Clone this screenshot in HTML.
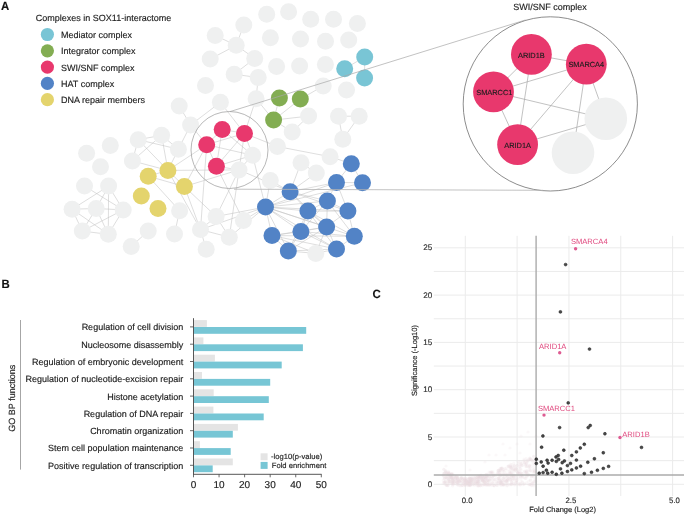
<!DOCTYPE html>
<html><head><meta charset="utf-8"><style>
html,body{margin:0;padding:0;background:#fff;}
svg{display:block;font-family:"Liberation Sans",sans-serif;text-rendering:geometricPrecision;filter:blur(0.25px);}
text[fill="#1a1a1a"],text[fill="#222"],text[fill="#111"],text[fill="#333"]{stroke:#222;stroke-width:0.15px;}
</style></head><body>
<svg width="685" height="515" viewBox="0 0 685 515">
<rect width="685" height="515" fill="#fff"/>
<g stroke="#c2c2c2" stroke-width="0.55">
<line x1="215.2" y1="35.5" x2="236.2" y2="45.3"/>
<line x1="243.8" y1="25.1" x2="236.2" y2="45.3"/>
<line x1="236.2" y1="45.3" x2="210.2" y2="59.1"/>
<line x1="236.2" y1="45.3" x2="254.7" y2="58.4"/>
<line x1="254.7" y1="58.4" x2="234.2" y2="74.3"/>
<line x1="234.2" y1="74.3" x2="258.2" y2="77.5"/>
<line x1="258.2" y1="77.5" x2="256.1" y2="98.7"/>
<line x1="256.1" y1="98.7" x2="244.5" y2="133.4"/>
<line x1="256.1" y1="98.7" x2="273.6" y2="120.1"/>
<line x1="279.4" y1="98" x2="273.6" y2="120.1"/>
<line x1="300.3" y1="99.1" x2="273.6" y2="120.1"/>
<line x1="273.6" y1="120.1" x2="308.6" y2="116.1"/>
<line x1="300.3" y1="99.1" x2="323.2" y2="86"/>
<line x1="273.6" y1="120.1" x2="292.2" y2="131.9"/>
<line x1="308.6" y1="116.1" x2="292.2" y2="131.9"/>
<line x1="364.7" y1="57" x2="344.7" y2="68.7"/>
<line x1="364.7" y1="57" x2="364.6" y2="78"/>
<line x1="338.5" y1="116.2" x2="359.2" y2="116.2"/>
<line x1="338.5" y1="116.2" x2="342.8" y2="139.2"/>
<line x1="359.2" y1="116.2" x2="342.8" y2="139.2"/>
<line x1="179.2" y1="106" x2="190.6" y2="125"/>
<line x1="190.6" y1="125" x2="220.4" y2="102.3"/>
<line x1="220.4" y1="102.3" x2="244.5" y2="133.4"/>
<line x1="190.6" y1="125" x2="206.7" y2="144.7"/>
<line x1="138.2" y1="139.7" x2="161.6" y2="135.3"/>
<line x1="138.2" y1="139.7" x2="178.4" y2="149.2"/>
<line x1="161.6" y1="135.3" x2="178.4" y2="149.2"/>
<line x1="138.2" y1="139.7" x2="167.9" y2="170.4"/>
<line x1="161.6" y1="135.3" x2="132.4" y2="160.9"/>
<line x1="161.6" y1="135.3" x2="167.9" y2="170.4"/>
<line x1="178.4" y1="149.2" x2="167.9" y2="170.4"/>
<line x1="190.6" y1="125" x2="178.4" y2="149.2"/>
<line x1="138.2" y1="139.7" x2="132.4" y2="160.9"/>
<line x1="132.4" y1="160.9" x2="167.9" y2="170.4"/>
<line x1="148.2" y1="176.2" x2="167.9" y2="170.4"/>
<line x1="167.9" y1="170.4" x2="206.7" y2="144.7"/>
<line x1="167.9" y1="170.4" x2="239" y2="169.9"/>
<line x1="148.2" y1="176.2" x2="184.4" y2="186.5"/>
<line x1="167.9" y1="170.4" x2="184.4" y2="186.5"/>
<line x1="184.4" y1="186.5" x2="206.7" y2="144.7"/>
<line x1="184.4" y1="186.5" x2="239" y2="169.9"/>
<line x1="84.5" y1="186.1" x2="123.2" y2="209.9"/>
<line x1="108.6" y1="186.1" x2="72.1" y2="209.2"/>
<line x1="108.6" y1="186.1" x2="96.2" y2="208.5"/>
<line x1="108.6" y1="186.1" x2="108.3" y2="234.3"/>
<line x1="108.6" y1="186.1" x2="123.2" y2="209.9"/>
<line x1="72.1" y1="209.2" x2="96.2" y2="208.5"/>
<line x1="96.2" y1="208.5" x2="123.2" y2="209.9"/>
<line x1="72.1" y1="209.2" x2="108.3" y2="234.3"/>
<line x1="72.1" y1="209.2" x2="82.3" y2="231.1"/>
<line x1="96.2" y1="208.5" x2="82.3" y2="231.1"/>
<line x1="96.2" y1="208.5" x2="108.3" y2="234.3"/>
<line x1="123.2" y1="209.9" x2="82.3" y2="231.1"/>
<line x1="123.2" y1="209.9" x2="108.3" y2="234.3"/>
<line x1="82.3" y1="231.1" x2="108.3" y2="234.3"/>
<line x1="148.2" y1="176.2" x2="179.6" y2="210.7"/>
<line x1="184.4" y1="186.5" x2="216.1" y2="216.5"/>
<line x1="184.4" y1="186.5" x2="200.5" y2="229.6"/>
<line x1="167.9" y1="170.4" x2="200.5" y2="229.6"/>
<line x1="216.1" y1="216.5" x2="239" y2="169.9"/>
<line x1="179.6" y1="210.7" x2="174.5" y2="234"/>
<line x1="148.2" y1="231.1" x2="131.2" y2="246.4"/>
<line x1="200.5" y1="229.6" x2="216.1" y2="216.5"/>
<line x1="200.5" y1="229.6" x2="229.3" y2="237.2"/>
<line x1="200.5" y1="229.6" x2="206.2" y2="249.3"/>
<line x1="216.1" y1="216.5" x2="229.3" y2="237.2"/>
<line x1="222.2" y1="129.4" x2="244.5" y2="133.4"/>
<line x1="222.2" y1="129.4" x2="206.7" y2="144.7"/>
<line x1="206.7" y1="144.7" x2="244.5" y2="133.4"/>
<line x1="206.7" y1="144.7" x2="252.6" y2="155.3"/>
<line x1="244.5" y1="133.4" x2="216.4" y2="166.3"/>
<line x1="244.5" y1="133.4" x2="252.6" y2="155.3"/>
<line x1="244.5" y1="133.4" x2="277.4" y2="146.5"/>
<line x1="216.4" y1="166.3" x2="239" y2="169.9"/>
<line x1="216.4" y1="166.3" x2="252.6" y2="155.3"/>
<line x1="252.6" y1="155.3" x2="239" y2="169.9"/>
<line x1="222.2" y1="129.4" x2="252.6" y2="155.3"/>
<line x1="206.7" y1="144.7" x2="200.5" y2="229.6"/>
<line x1="239" y1="169.9" x2="229.3" y2="237.2"/>
<line x1="239" y1="169.9" x2="290.1" y2="191.7"/>
<line x1="252.6" y1="155.3" x2="265.5" y2="207"/>
<line x1="216.4" y1="166.3" x2="243.4" y2="220.5"/>
<line x1="222.2" y1="129.4" x2="216.4" y2="166.3"/>
<line x1="244.5" y1="133.4" x2="239" y2="169.9"/>
<line x1="206.7" y1="144.7" x2="216.4" y2="166.3"/>
<line x1="277.4" y1="146.5" x2="330.1" y2="156.7"/>
<line x1="330.1" y1="156.7" x2="351.3" y2="163.7"/>
<line x1="301" y1="162.8" x2="316.3" y2="173"/>
<line x1="316.3" y1="173" x2="290.1" y2="191.7"/>
<line x1="270.3" y1="180.4" x2="290.1" y2="191.7"/>
<line x1="270.3" y1="180.4" x2="265.5" y2="207"/>
<line x1="290.1" y1="191.7" x2="265.5" y2="207"/>
<line x1="290.1" y1="191.7" x2="307.9" y2="211.1"/>
<line x1="290.1" y1="191.7" x2="327.4" y2="201"/>
<line x1="265.5" y1="207" x2="307.9" y2="211.1"/>
<line x1="265.5" y1="207" x2="327.4" y2="201"/>
<line x1="265.5" y1="207" x2="347.9" y2="211.1"/>
<line x1="265.5" y1="207" x2="272" y2="235.6"/>
<line x1="265.5" y1="207" x2="300.9" y2="231.5"/>
<line x1="265.5" y1="207" x2="326.6" y2="226.9"/>
<line x1="265.5" y1="207" x2="354.3" y2="236.3"/>
<line x1="265.5" y1="207" x2="288.3" y2="251"/>
<line x1="265.5" y1="207" x2="336.5" y2="249"/>
<line x1="307.9" y1="211.1" x2="327.4" y2="201"/>
<line x1="307.9" y1="211.1" x2="347.9" y2="211.1"/>
<line x1="307.9" y1="211.1" x2="300.9" y2="231.5"/>
<line x1="307.9" y1="211.1" x2="326.6" y2="226.9"/>
<line x1="307.9" y1="211.1" x2="288.3" y2="251"/>
<line x1="327.4" y1="201" x2="347.9" y2="211.1"/>
<line x1="327.4" y1="201" x2="326.6" y2="226.9"/>
<line x1="327.4" y1="201" x2="354.3" y2="236.3"/>
<line x1="347.9" y1="211.1" x2="326.6" y2="226.9"/>
<line x1="347.9" y1="211.1" x2="354.3" y2="236.3"/>
<line x1="336.5" y1="182.4" x2="362.5" y2="182.8"/>
<line x1="336.5" y1="182.4" x2="351.3" y2="163.7"/>
<line x1="362.5" y1="182.8" x2="351.3" y2="163.7"/>
<line x1="336.5" y1="182.4" x2="347.9" y2="211.1"/>
<line x1="272" y1="235.6" x2="300.9" y2="231.5"/>
<line x1="272" y1="235.6" x2="288.3" y2="251"/>
<line x1="300.9" y1="231.5" x2="326.6" y2="226.9"/>
<line x1="300.9" y1="231.5" x2="288.3" y2="251"/>
<line x1="300.9" y1="231.5" x2="336.5" y2="249"/>
<line x1="326.6" y1="226.9" x2="336.5" y2="249"/>
<line x1="354.3" y1="236.3" x2="336.5" y2="249"/>
<line x1="288.3" y1="251" x2="336.5" y2="249"/>
<line x1="272" y1="235.6" x2="315.8" y2="253.4"/>
<line x1="326.6" y1="226.9" x2="315.8" y2="253.4"/>
<line x1="288.3" y1="251" x2="315.8" y2="253.4"/>
<line x1="336.5" y1="249" x2="315.8" y2="253.4"/>
<line x1="300.9" y1="231.5" x2="354.3" y2="236.3"/>
<line x1="272" y1="235.6" x2="326.6" y2="226.9"/>
<line x1="243.4" y1="220.5" x2="265.5" y2="207"/>
<line x1="229.3" y1="237.2" x2="265.5" y2="207"/>
<line x1="336.5" y1="182.4" x2="327.4" y2="201"/>
<line x1="290.1" y1="191.7" x2="336.5" y2="182.4"/>
<line x1="265.5" y1="207" x2="336.5" y2="182.4"/>
<line x1="290.1" y1="191.7" x2="326.6" y2="226.9"/>
<line x1="307.9" y1="211.1" x2="336.5" y2="249"/>
<line x1="327.4" y1="201" x2="300.9" y2="231.5"/>
<line x1="272" y1="235.6" x2="336.5" y2="249"/>
<line x1="288.3" y1="251" x2="326.6" y2="226.9"/>
<line x1="216.1" y1="216.5" x2="265.5" y2="207"/>
<line x1="200.5" y1="229.6" x2="265.5" y2="207"/>
<line x1="272" y1="235.6" x2="354.3" y2="236.3"/>
<line x1="307.9" y1="211.1" x2="354.3" y2="236.3"/>
<line x1="290.1" y1="191.7" x2="347.9" y2="211.1"/>
<line x1="265.5" y1="207" x2="362.5" y2="182.8"/>
<line x1="301" y1="162.8" x2="290.1" y2="191.7"/>
</g>
<circle cx="550.3" cy="103.9" r="87.1" fill="none" stroke="#707070" stroke-width="0.8"/>
<line x1="531.4" y1="54.4" x2="586.3" y2="64.2" stroke="#a8a8a8" stroke-width="0.7"/>
<line x1="531.4" y1="54.4" x2="493.5" y2="91.9" stroke="#a8a8a8" stroke-width="0.7"/>
<line x1="493.5" y1="91.9" x2="586.3" y2="64.2" stroke="#a8a8a8" stroke-width="0.7"/>
<line x1="493.5" y1="91.9" x2="605.8" y2="118.7" stroke="#a8a8a8" stroke-width="0.7"/>
<line x1="531.4" y1="54.4" x2="517.6" y2="144.6" stroke="#a8a8a8" stroke-width="0.7"/>
<line x1="586.3" y1="64.2" x2="517.6" y2="144.6" stroke="#a8a8a8" stroke-width="0.7"/>
<line x1="586.3" y1="64.2" x2="573" y2="152.8" stroke="#a8a8a8" stroke-width="0.7"/>
<line x1="586.3" y1="64.2" x2="605.8" y2="118.7" stroke="#a8a8a8" stroke-width="0.7"/>
<line x1="493.5" y1="91.9" x2="517.6" y2="144.6" stroke="#a8a8a8" stroke-width="0.7"/>
<line x1="517.6" y1="144.6" x2="605.8" y2="118.7" stroke="#a8a8a8" stroke-width="0.7"/>
<circle cx="531.4" cy="54.4" r="20.4" fill="#e8386d"/>
<text x="531.4" y="57.5" text-anchor="middle" font-size="7.4" fill="#1a1a1a">ARID1B</text>
<circle cx="586.3" cy="64.2" r="20.4" fill="#e8386d"/>
<text x="586.3" y="67.3" text-anchor="middle" font-size="7.4" fill="#1a1a1a">SMARCA4</text>
<circle cx="493.5" cy="91.9" r="20.4" fill="#e8386d"/>
<text x="494.3" y="95.0" text-anchor="middle" font-size="7.4" fill="#1a1a1a">SMARCC1</text>
<circle cx="517.6" cy="144.6" r="20.4" fill="#e8386d"/>
<text x="517.6" y="147.7" text-anchor="middle" font-size="7.4" fill="#1a1a1a">ARID1A</text>
<circle cx="605.8" cy="118.7" r="21.3" fill="#eff0f0"/>
<circle cx="573" cy="152.8" r="21.3" fill="#eff0f0"/>
<text x="550" y="10.0" text-anchor="middle" font-size="9" fill="#222">SWI/SNF complex</text>
<circle cx="243.8" cy="25.1" r="8.5" fill="#eff0f0"/>
<circle cx="266.7" cy="14.3" r="8.5" fill="#eff0f0"/>
<circle cx="288.6" cy="11.7" r="8.5" fill="#eff0f0"/>
<circle cx="215.2" cy="35.5" r="8.5" fill="#eff0f0"/>
<circle cx="236.2" cy="45.3" r="8.5" fill="#eff0f0"/>
<circle cx="270.4" cy="37.7" r="8.5" fill="#eff0f0"/>
<circle cx="210.2" cy="59.1" r="8.5" fill="#eff0f0"/>
<circle cx="254.7" cy="58.4" r="8.5" fill="#eff0f0"/>
<circle cx="276.6" cy="66.6" r="8.5" fill="#eff0f0"/>
<circle cx="299.6" cy="66.1" r="8.5" fill="#eff0f0"/>
<circle cx="325.4" cy="64.4" r="8.5" fill="#eff0f0"/>
<circle cx="310.7" cy="19.3" r="8.5" fill="#eff0f0"/>
<circle cx="333.5" cy="19.3" r="8.5" fill="#eff0f0"/>
<circle cx="357.4" cy="23.4" r="8.5" fill="#eff0f0"/>
<circle cx="300.5" cy="39.1" r="8.5" fill="#eff0f0"/>
<circle cx="325.5" cy="41.3" r="8.5" fill="#eff0f0"/>
<circle cx="348.7" cy="39.9" r="8.5" fill="#eff0f0"/>
<circle cx="234.2" cy="74.3" r="8.5" fill="#eff0f0"/>
<circle cx="258.2" cy="77.5" r="8.5" fill="#eff0f0"/>
<circle cx="205.5" cy="85.5" r="8.5" fill="#eff0f0"/>
<circle cx="220.4" cy="102.3" r="8.5" fill="#eff0f0"/>
<circle cx="179.2" cy="106" r="8.5" fill="#eff0f0"/>
<circle cx="190.6" cy="125" r="8.5" fill="#eff0f0"/>
<circle cx="256.1" cy="98.7" r="8.5" fill="#eff0f0"/>
<circle cx="323.2" cy="86" r="8.5" fill="#eff0f0"/>
<circle cx="346.5" cy="89.9" r="8.5" fill="#eff0f0"/>
<circle cx="308.6" cy="116.1" r="8.5" fill="#eff0f0"/>
<circle cx="338.5" cy="116.2" r="8.5" fill="#eff0f0"/>
<circle cx="359.2" cy="116.2" r="8.5" fill="#eff0f0"/>
<circle cx="342.8" cy="139.2" r="8.5" fill="#eff0f0"/>
<circle cx="292.2" cy="131.9" r="8.5" fill="#eff0f0"/>
<circle cx="277.4" cy="146.5" r="8.5" fill="#eff0f0"/>
<circle cx="330.1" cy="156.7" r="8.5" fill="#eff0f0"/>
<circle cx="301" cy="162.8" r="8.5" fill="#eff0f0"/>
<circle cx="316.3" cy="173" r="8.5" fill="#eff0f0"/>
<circle cx="270.3" cy="180.4" r="8.5" fill="#eff0f0"/>
<circle cx="252.6" cy="155.3" r="8.5" fill="#eff0f0"/>
<circle cx="239" cy="169.9" r="8.5" fill="#eff0f0"/>
<circle cx="110.3" cy="145.5" r="8.5" fill="#eff0f0"/>
<circle cx="86.6" cy="153.3" r="8.5" fill="#eff0f0"/>
<circle cx="100.5" cy="166.7" r="8.5" fill="#eff0f0"/>
<circle cx="138.2" cy="139.7" r="8.5" fill="#eff0f0"/>
<circle cx="161.6" cy="135.3" r="8.5" fill="#eff0f0"/>
<circle cx="178.4" cy="149.2" r="8.5" fill="#eff0f0"/>
<circle cx="132.4" cy="160.9" r="8.5" fill="#eff0f0"/>
<circle cx="84.5" cy="186.1" r="8.5" fill="#eff0f0"/>
<circle cx="108.6" cy="186.1" r="8.5" fill="#eff0f0"/>
<circle cx="72.1" cy="209.2" r="8.5" fill="#eff0f0"/>
<circle cx="96.2" cy="208.5" r="8.5" fill="#eff0f0"/>
<circle cx="123.2" cy="209.9" r="8.5" fill="#eff0f0"/>
<circle cx="82.3" cy="231.1" r="8.5" fill="#eff0f0"/>
<circle cx="108.3" cy="234.3" r="8.5" fill="#eff0f0"/>
<circle cx="131.2" cy="246.4" r="8.5" fill="#eff0f0"/>
<circle cx="148.2" cy="231.1" r="8.5" fill="#eff0f0"/>
<circle cx="174.5" cy="234" r="8.5" fill="#eff0f0"/>
<circle cx="179.6" cy="210.7" r="8.5" fill="#eff0f0"/>
<circle cx="216.1" cy="216.5" r="8.5" fill="#eff0f0"/>
<circle cx="200.5" cy="229.6" r="8.5" fill="#eff0f0"/>
<circle cx="229.3" cy="237.2" r="8.5" fill="#eff0f0"/>
<circle cx="206.2" cy="249.3" r="8.5" fill="#eff0f0"/>
<circle cx="243.4" cy="220.5" r="8.5" fill="#eff0f0"/>
<circle cx="315.8" cy="253.4" r="8.5" fill="#eff0f0"/>
<circle cx="364.7" cy="57" r="8.5" fill="#79c5d5"/>
<circle cx="344.7" cy="68.7" r="8.5" fill="#79c5d5"/>
<circle cx="364.6" cy="78" r="8.5" fill="#79c5d5"/>
<circle cx="279.4" cy="98" r="8.5" fill="#83ad52"/>
<circle cx="300.3" cy="99.1" r="8.5" fill="#83ad52"/>
<circle cx="273.6" cy="120.1" r="8.5" fill="#83ad52"/>
<circle cx="222.2" cy="129.4" r="8.5" fill="#e8386d"/>
<circle cx="244.5" cy="133.4" r="8.5" fill="#e8386d"/>
<circle cx="206.7" cy="144.7" r="8.5" fill="#e8386d"/>
<circle cx="216.4" cy="166.3" r="8.5" fill="#e8386d"/>
<circle cx="167.9" cy="170.4" r="8.5" fill="#e4d46d"/>
<circle cx="148.2" cy="176.2" r="8.5" fill="#e4d46d"/>
<circle cx="184.4" cy="186.5" r="8.5" fill="#e4d46d"/>
<circle cx="141.3" cy="196.1" r="8.5" fill="#e4d46d"/>
<circle cx="158" cy="208.5" r="8.5" fill="#e4d46d"/>
<circle cx="290.1" cy="191.7" r="8.5" fill="#5283c6"/>
<circle cx="265.5" cy="207" r="8.5" fill="#5283c6"/>
<circle cx="307.9" cy="211.1" r="8.5" fill="#5283c6"/>
<circle cx="327.4" cy="201" r="8.5" fill="#5283c6"/>
<circle cx="347.9" cy="211.1" r="8.5" fill="#5283c6"/>
<circle cx="336.5" cy="182.4" r="8.5" fill="#5283c6"/>
<circle cx="362.5" cy="182.8" r="8.5" fill="#5283c6"/>
<circle cx="351.3" cy="163.7" r="8.5" fill="#5283c6"/>
<circle cx="272" cy="235.6" r="8.5" fill="#5283c6"/>
<circle cx="300.9" cy="231.5" r="8.5" fill="#5283c6"/>
<circle cx="326.6" cy="226.9" r="8.5" fill="#5283c6"/>
<circle cx="354.3" cy="236.3" r="8.5" fill="#5283c6"/>
<circle cx="288.3" cy="251" r="8.5" fill="#5283c6"/>
<circle cx="336.5" cy="249" r="8.5" fill="#5283c6"/>
<line x1="229.7" y1="111.7" x2="525.4" y2="20" stroke="#a8a8a8" stroke-width="0.7"/>
<line x1="234" y1="189.2" x2="543.2" y2="190.3" stroke="#b3b3b3" stroke-width="0.8"/>
<circle cx="229.5" cy="150" r="38.5" fill="none" stroke="#9a9a9a" stroke-width="0.7"/>
<text transform="translate(1.0,10.0) scale(0.95,1)" font-size="12" font-weight="bold" fill="#111">A</text>
<text x="35.8" y="20.9" font-size="9" fill="#1a1a1a">Complexes in SOX11-interactome</text>
<circle cx="47.4" cy="34.50" r="6.6" fill="#79c5d5"/>
<text x="61" y="38.10" font-size="9" fill="#1a1a1a">Mediator complex</text>
<circle cx="47.4" cy="50.80" r="6.6" fill="#83ad52"/>
<text x="61" y="54.40" font-size="9" fill="#1a1a1a">Integrator complex</text>
<circle cx="47.4" cy="67.10" r="6.6" fill="#e8386d"/>
<text x="61" y="70.70" font-size="9" fill="#1a1a1a">SWI/SNF complex</text>
<circle cx="47.4" cy="83.40" r="6.6" fill="#5283c6"/>
<text x="61" y="87.00" font-size="9" fill="#1a1a1a">HAT complex</text>
<circle cx="47.4" cy="99.70" r="6.6" fill="#e4d46d"/>
<text x="61" y="103.30" font-size="9" fill="#1a1a1a">DNA repair members</text>
<text transform="translate(1.4,288.3) scale(0.95,1)" font-size="12" font-weight="bold" fill="#111">B</text>
<text transform="translate(372.6,297.8) scale(0.95,1)" font-size="12" font-weight="bold" fill="#111">C</text>
<line x1="20.5" y1="320" x2="20.5" y2="469.6" stroke="#a6a6a6" stroke-width="1"/>
<text transform="translate(14.9,398.2) rotate(-90)" text-anchor="middle" font-size="9" fill="#222">GO BP functions</text>
<rect x="193.5" y="320.10" width="13.40" height="6.8" fill="#e4e4e4"/>
<rect x="193.5" y="327.00" width="112.70" height="6.8" fill="#77c6d5"/>
<line x1="190" y1="326.90" x2="193.5" y2="326.90" stroke="#444" stroke-width="0.8"/>
<text x="183.2" y="330.35" text-anchor="end" font-size="9" fill="#1a1a1a">Regulation of cell division</text>
<rect x="193.5" y="337.40" width="9.90" height="6.8" fill="#e4e4e4"/>
<rect x="193.5" y="344.30" width="109.40" height="6.8" fill="#77c6d5"/>
<line x1="190" y1="344.20" x2="193.5" y2="344.20" stroke="#444" stroke-width="0.8"/>
<text x="183.2" y="347.65" text-anchor="end" font-size="9" fill="#1a1a1a">Nucleosome disassembly</text>
<rect x="193.5" y="354.70" width="21.40" height="6.8" fill="#e4e4e4"/>
<rect x="193.5" y="361.60" width="88.20" height="6.8" fill="#77c6d5"/>
<line x1="190" y1="361.50" x2="193.5" y2="361.50" stroke="#444" stroke-width="0.8"/>
<text x="183.2" y="364.95" text-anchor="end" font-size="9" fill="#1a1a1a">Regulation of embryonic development</text>
<rect x="193.5" y="372.00" width="8.50" height="6.8" fill="#e4e4e4"/>
<rect x="193.5" y="378.90" width="76.70" height="6.8" fill="#77c6d5"/>
<line x1="190" y1="378.80" x2="193.5" y2="378.80" stroke="#444" stroke-width="0.8"/>
<text x="183.2" y="382.25" text-anchor="end" font-size="9" fill="#1a1a1a">Regulation of nucleotide-excision repair</text>
<rect x="193.5" y="389.30" width="20.20" height="6.8" fill="#e4e4e4"/>
<rect x="193.5" y="396.20" width="75.30" height="6.8" fill="#77c6d5"/>
<line x1="190" y1="396.10" x2="193.5" y2="396.10" stroke="#444" stroke-width="0.8"/>
<text x="183.2" y="399.55" text-anchor="end" font-size="9" fill="#1a1a1a">Histone acetylation</text>
<rect x="193.5" y="406.60" width="19.90" height="6.8" fill="#e4e4e4"/>
<rect x="193.5" y="413.50" width="70.20" height="6.8" fill="#77c6d5"/>
<line x1="190" y1="413.40" x2="193.5" y2="413.40" stroke="#444" stroke-width="0.8"/>
<text x="183.2" y="416.85" text-anchor="end" font-size="9" fill="#1a1a1a">Regulation of DNA repair</text>
<rect x="193.5" y="423.90" width="44.40" height="6.8" fill="#e4e4e4"/>
<rect x="193.5" y="430.80" width="39.30" height="6.8" fill="#77c6d5"/>
<line x1="190" y1="430.70" x2="193.5" y2="430.70" stroke="#444" stroke-width="0.8"/>
<text x="183.2" y="434.15" text-anchor="end" font-size="9" fill="#1a1a1a">Chromatin organization</text>
<rect x="193.5" y="441.20" width="6.40" height="6.8" fill="#e4e4e4"/>
<rect x="193.5" y="448.10" width="37.20" height="6.8" fill="#77c6d5"/>
<line x1="190" y1="448.00" x2="193.5" y2="448.00" stroke="#444" stroke-width="0.8"/>
<text x="183.2" y="451.45" text-anchor="end" font-size="9" fill="#1a1a1a">Stem cell population maintenance</text>
<rect x="193.5" y="458.50" width="39.30" height="6.8" fill="#e4e4e4"/>
<rect x="193.5" y="465.40" width="19.20" height="6.8" fill="#77c6d5"/>
<line x1="190" y1="465.30" x2="193.5" y2="465.30" stroke="#444" stroke-width="0.8"/>
<text x="183.2" y="468.75" text-anchor="end" font-size="9" fill="#1a1a1a">Positive regulation of transcription</text>
<line x1="193.5" y1="318.2" x2="193.5" y2="474.6" stroke="#444" stroke-width="0.9"/>
<line x1="193.1" y1="474.3" x2="321.6" y2="474.3" stroke="#444" stroke-width="0.9"/>
<line x1="193.50" y1="474.3" x2="193.50" y2="477.3" stroke="#444" stroke-width="0.8"/>
<text x="193.50" y="488.3" text-anchor="middle" font-size="10" fill="#222">0</text>
<line x1="219.06" y1="474.3" x2="219.06" y2="477.3" stroke="#444" stroke-width="0.8"/>
<text x="219.06" y="488.3" text-anchor="middle" font-size="10" fill="#222">10</text>
<line x1="244.62" y1="474.3" x2="244.62" y2="477.3" stroke="#444" stroke-width="0.8"/>
<text x="244.62" y="488.3" text-anchor="middle" font-size="10" fill="#222">20</text>
<line x1="270.18" y1="474.3" x2="270.18" y2="477.3" stroke="#444" stroke-width="0.8"/>
<text x="270.18" y="488.3" text-anchor="middle" font-size="10" fill="#222">30</text>
<line x1="295.74" y1="474.3" x2="295.74" y2="477.3" stroke="#444" stroke-width="0.8"/>
<text x="295.74" y="488.3" text-anchor="middle" font-size="10" fill="#222">40</text>
<line x1="321.30" y1="474.3" x2="321.30" y2="477.3" stroke="#444" stroke-width="0.8"/>
<text x="321.30" y="488.3" text-anchor="middle" font-size="10" fill="#222">50</text>
<rect x="260.6" y="453.3" width="7" height="7" fill="#e4e4e4"/>
<rect x="260.6" y="461.9" width="7" height="7" fill="#77c6d5"/>
<text x="271.1" y="459.1" font-size="7.6" fill="#222">-log10(p-value)</text>
<text x="271.8" y="468.0" font-size="7.6" fill="#222">Fold enrichment</text>
<line x1="433.8" y1="484.30" x2="684" y2="484.30" stroke="#ebebeb" stroke-width="1"/>
<line x1="433.8" y1="460.65" x2="684" y2="460.65" stroke="#ebebeb" stroke-width="1"/>
<line x1="433.8" y1="437.00" x2="684" y2="437.00" stroke="#ebebeb" stroke-width="1"/>
<line x1="433.8" y1="413.35" x2="684" y2="413.35" stroke="#ebebeb" stroke-width="1"/>
<line x1="433.8" y1="389.70" x2="684" y2="389.70" stroke="#ebebeb" stroke-width="1"/>
<line x1="433.8" y1="366.05" x2="684" y2="366.05" stroke="#ebebeb" stroke-width="1"/>
<line x1="433.8" y1="342.40" x2="684" y2="342.40" stroke="#ebebeb" stroke-width="1"/>
<line x1="433.8" y1="318.75" x2="684" y2="318.75" stroke="#ebebeb" stroke-width="1"/>
<line x1="433.8" y1="295.10" x2="684" y2="295.10" stroke="#ebebeb" stroke-width="1"/>
<line x1="433.8" y1="271.45" x2="684" y2="271.45" stroke="#ebebeb" stroke-width="1"/>
<line x1="433.8" y1="247.80" x2="684" y2="247.80" stroke="#ebebeb" stroke-width="1"/>
<line x1="465.30" y1="235.8" x2="465.30" y2="496" stroke="#ebebeb" stroke-width="1"/>
<line x1="517.12" y1="235.8" x2="517.12" y2="496" stroke="#ebebeb" stroke-width="1"/>
<line x1="568.95" y1="235.8" x2="568.95" y2="496" stroke="#ebebeb" stroke-width="1"/>
<line x1="620.77" y1="235.8" x2="620.77" y2="496" stroke="#ebebeb" stroke-width="1"/>
<line x1="672.60" y1="235.8" x2="672.60" y2="496" stroke="#ebebeb" stroke-width="1"/>
<text x="432.2" y="486.80" text-anchor="end" font-size="8.1" fill="#333">0</text>
<text x="432.2" y="439.50" text-anchor="end" font-size="8.1" fill="#333">5</text>
<text x="432.2" y="392.20" text-anchor="end" font-size="8.1" fill="#333">10</text>
<text x="432.2" y="344.90" text-anchor="end" font-size="8.1" fill="#333">15</text>
<text x="432.2" y="297.60" text-anchor="end" font-size="8.1" fill="#333">20</text>
<text x="432.2" y="250.30" text-anchor="end" font-size="8.1" fill="#333">25</text>
<text x="467.20" y="503.4" text-anchor="middle" font-size="7.8" fill="#333">0.0</text>
<text x="570.85" y="503.4" text-anchor="middle" font-size="7.8" fill="#333">2.5</text>
<text x="674.50" y="503.4" text-anchor="middle" font-size="7.8" fill="#333">5.0</text>
<text x="562.6" y="511.5" text-anchor="middle" font-size="7.5" fill="#222">Fold Change (Log2)</text>
<text transform="translate(416.5,360.5) rotate(-90)" text-anchor="middle" font-size="7.5" fill="#222">Significance (-Log10)</text>
<g fill="#eadbe3" fill-opacity="0.2"><circle cx="500.9" cy="481.3" r="1.6"/><circle cx="517.0" cy="484.6" r="1.6"/><circle cx="511.8" cy="484.3" r="1.6"/><circle cx="445.7" cy="477.2" r="1.6"/><circle cx="530.7" cy="475.8" r="1.6"/><circle cx="526.8" cy="461.6" r="1.6"/><circle cx="486.6" cy="476.1" r="1.6"/><circle cx="493.6" cy="479.4" r="1.6"/><circle cx="444.2" cy="472.5" r="1.6"/><circle cx="469.0" cy="485.3" r="1.6"/><circle cx="514.2" cy="466.6" r="1.6"/><circle cx="517.1" cy="465.3" r="1.6"/><circle cx="500.4" cy="470.2" r="1.6"/><circle cx="443.2" cy="483.7" r="1.6"/><circle cx="462.5" cy="479.5" r="1.6"/><circle cx="534.4" cy="482.1" r="1.6"/><circle cx="469.9" cy="485.7" r="1.6"/><circle cx="493.1" cy="481.0" r="1.6"/><circle cx="462.0" cy="485.5" r="1.6"/><circle cx="507.2" cy="485.3" r="1.6"/><circle cx="526.1" cy="466.8" r="1.6"/><circle cx="476.6" cy="478.0" r="1.6"/><circle cx="456.6" cy="477.0" r="1.6"/><circle cx="471.0" cy="482.7" r="1.6"/><circle cx="443.3" cy="480.3" r="1.6"/><circle cx="474.4" cy="479.7" r="1.6"/><circle cx="519.1" cy="473.1" r="1.6"/><circle cx="472.4" cy="481.5" r="1.6"/><circle cx="508.5" cy="466.2" r="1.6"/><circle cx="533.7" cy="456.6" r="1.6"/><circle cx="512.7" cy="482.5" r="1.6"/><circle cx="444.7" cy="482.4" r="1.6"/><circle cx="477.1" cy="481.9" r="1.6"/><circle cx="443.8" cy="469.3" r="1.6"/><circle cx="459.8" cy="485.6" r="1.6"/><circle cx="461.3" cy="483.9" r="1.6"/><circle cx="529.5" cy="484.3" r="1.6"/><circle cx="475.0" cy="480.1" r="1.6"/><circle cx="491.8" cy="482.6" r="1.6"/><circle cx="453.0" cy="483.0" r="1.6"/><circle cx="517.1" cy="482.6" r="1.6"/><circle cx="446.4" cy="485.1" r="1.6"/><circle cx="451.5" cy="477.5" r="1.6"/><circle cx="499.8" cy="484.5" r="1.6"/><circle cx="474.6" cy="485.3" r="1.6"/><circle cx="493.7" cy="475.2" r="1.6"/><circle cx="472.5" cy="478.9" r="1.6"/><circle cx="450.3" cy="474.4" r="1.6"/><circle cx="507.1" cy="485.9" r="1.6"/><circle cx="458.0" cy="477.2" r="1.6"/><circle cx="534.8" cy="471.8" r="1.6"/><circle cx="480.7" cy="477.6" r="1.6"/><circle cx="498.2" cy="483.0" r="1.6"/><circle cx="485.4" cy="478.7" r="1.6"/><circle cx="448.2" cy="484.8" r="1.6"/><circle cx="446.0" cy="477.8" r="1.6"/><circle cx="521.0" cy="463.9" r="1.6"/><circle cx="511.0" cy="484.9" r="1.6"/><circle cx="501.6" cy="482.1" r="1.6"/><circle cx="452.9" cy="479.2" r="1.6"/><circle cx="456.9" cy="484.5" r="1.6"/><circle cx="470.4" cy="481.5" r="1.6"/><circle cx="535.9" cy="481.4" r="1.6"/><circle cx="533.8" cy="469.6" r="1.6"/><circle cx="488.4" cy="482.3" r="1.6"/><circle cx="487.6" cy="476.5" r="1.6"/><circle cx="480.6" cy="476.7" r="1.6"/><circle cx="478.1" cy="485.9" r="1.6"/><circle cx="532.3" cy="475.0" r="1.6"/><circle cx="489.4" cy="476.7" r="1.6"/><circle cx="451.3" cy="476.5" r="1.6"/><circle cx="515.7" cy="482.9" r="1.6"/><circle cx="476.6" cy="483.9" r="1.6"/><circle cx="515.1" cy="478.9" r="1.6"/><circle cx="504.8" cy="481.3" r="1.6"/><circle cx="476.8" cy="483.1" r="1.6"/><circle cx="469.1" cy="481.8" r="1.6"/><circle cx="514.6" cy="478.8" r="1.6"/><circle cx="470.3" cy="485.5" r="1.6"/><circle cx="503.4" cy="478.0" r="1.6"/><circle cx="444.1" cy="478.1" r="1.6"/><circle cx="466.3" cy="483.4" r="1.6"/><circle cx="486.1" cy="483.6" r="1.6"/><circle cx="503.2" cy="482.1" r="1.6"/><circle cx="475.4" cy="482.7" r="1.6"/><circle cx="511.6" cy="482.2" r="1.6"/><circle cx="475.6" cy="484.5" r="1.6"/><circle cx="523.9" cy="477.7" r="1.6"/><circle cx="533.8" cy="484.7" r="1.6"/><circle cx="491.2" cy="479.1" r="1.6"/><circle cx="458.5" cy="484.5" r="1.6"/><circle cx="530.2" cy="471.0" r="1.6"/><circle cx="507.3" cy="480.2" r="1.6"/><circle cx="510.9" cy="467.9" r="1.6"/><circle cx="515.6" cy="476.1" r="1.6"/><circle cx="504.9" cy="474.6" r="1.6"/><circle cx="501.0" cy="481.9" r="1.6"/><circle cx="502.2" cy="480.8" r="1.6"/><circle cx="445.6" cy="472.2" r="1.6"/><circle cx="484.0" cy="481.7" r="1.6"/><circle cx="463.4" cy="483.4" r="1.6"/><circle cx="501.7" cy="468.3" r="1.6"/><circle cx="486.9" cy="475.8" r="1.6"/><circle cx="448.0" cy="473.0" r="1.6"/><circle cx="472.5" cy="478.9" r="1.6"/><circle cx="461.0" cy="477.8" r="1.6"/><circle cx="486.3" cy="478.0" r="1.6"/><circle cx="499.9" cy="478.7" r="1.6"/><circle cx="465.1" cy="485.2" r="1.6"/><circle cx="443.1" cy="475.3" r="1.6"/><circle cx="468.9" cy="481.2" r="1.6"/><circle cx="453.7" cy="484.0" r="1.6"/><circle cx="477.8" cy="476.4" r="1.6"/><circle cx="500.1" cy="469.8" r="1.6"/><circle cx="493.7" cy="475.7" r="1.6"/><circle cx="497.0" cy="485.3" r="1.6"/><circle cx="519.1" cy="471.6" r="1.6"/><circle cx="518.6" cy="477.2" r="1.6"/><circle cx="477.4" cy="477.6" r="1.6"/><circle cx="498.4" cy="478.4" r="1.6"/><circle cx="532.0" cy="485.1" r="1.6"/><circle cx="499.6" cy="474.5" r="1.6"/><circle cx="526.1" cy="458.7" r="1.6"/><circle cx="453.0" cy="480.8" r="1.6"/><circle cx="500.2" cy="470.5" r="1.6"/><circle cx="501.5" cy="484.0" r="1.6"/><circle cx="478.0" cy="480.3" r="1.6"/><circle cx="464.0" cy="480.3" r="1.6"/><circle cx="533.4" cy="467.4" r="1.6"/><circle cx="532.4" cy="483.4" r="1.6"/><circle cx="498.4" cy="473.2" r="1.6"/><circle cx="534.2" cy="470.8" r="1.6"/><circle cx="481.6" cy="478.3" r="1.6"/><circle cx="534.5" cy="470.6" r="1.6"/><circle cx="469.6" cy="481.7" r="1.6"/><circle cx="454.3" cy="481.8" r="1.6"/><circle cx="484.2" cy="477.3" r="1.6"/><circle cx="515.7" cy="481.9" r="1.6"/><circle cx="444.2" cy="477.9" r="1.6"/><circle cx="468.5" cy="485.5" r="1.6"/><circle cx="515.7" cy="468.2" r="1.6"/><circle cx="467.9" cy="479.2" r="1.6"/><circle cx="535.0" cy="464.4" r="1.6"/><circle cx="499.5" cy="476.7" r="1.6"/><circle cx="503.0" cy="478.5" r="1.6"/><circle cx="512.1" cy="466.3" r="1.6"/><circle cx="513.7" cy="470.0" r="1.6"/><circle cx="492.6" cy="475.9" r="1.6"/><circle cx="470.6" cy="482.1" r="1.6"/><circle cx="486.2" cy="477.7" r="1.6"/><circle cx="512.3" cy="476.9" r="1.6"/><circle cx="446.4" cy="474.1" r="1.6"/><circle cx="485.4" cy="484.9" r="1.6"/><circle cx="525.6" cy="473.7" r="1.6"/><circle cx="444.4" cy="482.2" r="1.6"/><circle cx="482.8" cy="481.0" r="1.6"/><circle cx="508.9" cy="478.2" r="1.6"/><circle cx="487.8" cy="484.8" r="1.6"/><circle cx="478.8" cy="479.7" r="1.6"/><circle cx="522.2" cy="465.2" r="1.6"/><circle cx="470.6" cy="484.6" r="1.6"/><circle cx="449.1" cy="483.7" r="1.6"/><circle cx="507.6" cy="474.3" r="1.6"/><circle cx="469.6" cy="484.2" r="1.6"/><circle cx="527.7" cy="462.1" r="1.6"/><circle cx="487.5" cy="480.0" r="1.6"/><circle cx="489.3" cy="476.6" r="1.6"/><circle cx="457.3" cy="482.1" r="1.6"/><circle cx="518.5" cy="463.1" r="1.6"/><circle cx="464.4" cy="484.5" r="1.6"/><circle cx="516.6" cy="478.0" r="1.6"/><circle cx="445.4" cy="481.4" r="1.6"/><circle cx="534.0" cy="485.9" r="1.6"/><circle cx="508.2" cy="466.1" r="1.6"/><circle cx="521.3" cy="466.0" r="1.6"/><circle cx="503.1" cy="485.1" r="1.6"/><circle cx="509.3" cy="467.6" r="1.6"/><circle cx="470.2" cy="485.3" r="1.6"/><circle cx="456.9" cy="482.3" r="1.6"/><circle cx="481.5" cy="476.6" r="1.6"/><circle cx="500.9" cy="468.6" r="1.6"/><circle cx="453.1" cy="478.6" r="1.6"/><circle cx="449.7" cy="472.8" r="1.6"/><circle cx="496.5" cy="481.7" r="1.6"/><circle cx="524.7" cy="462.8" r="1.6"/><circle cx="483.1" cy="477.9" r="1.6"/><circle cx="498.8" cy="477.1" r="1.6"/><circle cx="530.3" cy="468.0" r="1.6"/><circle cx="448.2" cy="481.5" r="1.6"/><circle cx="457.1" cy="482.5" r="1.6"/><circle cx="490.0" cy="484.7" r="1.6"/><circle cx="494.6" cy="479.9" r="1.6"/><circle cx="467.5" cy="482.4" r="1.6"/><circle cx="466.6" cy="484.0" r="1.6"/><circle cx="491.1" cy="473.3" r="1.6"/><circle cx="464.8" cy="480.9" r="1.6"/><circle cx="511.5" cy="467.9" r="1.6"/><circle cx="509.3" cy="478.7" r="1.6"/><circle cx="450.9" cy="481.6" r="1.6"/><circle cx="451.5" cy="474.7" r="1.6"/><circle cx="498.2" cy="472.8" r="1.6"/><circle cx="524.6" cy="472.1" r="1.6"/><circle cx="473.1" cy="484.2" r="1.6"/><circle cx="445.7" cy="481.5" r="1.6"/><circle cx="448.0" cy="473.3" r="1.6"/><circle cx="531.5" cy="476.7" r="1.6"/><circle cx="463.7" cy="478.8" r="1.6"/><circle cx="533.5" cy="476.0" r="1.6"/><circle cx="519.3" cy="464.6" r="1.6"/><circle cx="501.1" cy="474.2" r="1.6"/><circle cx="464.9" cy="480.6" r="1.6"/><circle cx="500.1" cy="474.3" r="1.6"/><circle cx="478.9" cy="477.1" r="1.6"/><circle cx="520.3" cy="477.1" r="1.6"/><circle cx="517.8" cy="472.2" r="1.6"/><circle cx="522.2" cy="473.5" r="1.6"/><circle cx="498.1" cy="478.6" r="1.6"/><circle cx="511.8" cy="472.6" r="1.6"/><circle cx="452.0" cy="473.8" r="1.6"/><circle cx="461.8" cy="477.9" r="1.6"/><circle cx="525.7" cy="471.9" r="1.6"/><circle cx="513.7" cy="463.2" r="1.6"/><circle cx="486.7" cy="484.6" r="1.6"/><circle cx="500.6" cy="475.6" r="1.6"/><circle cx="486.3" cy="474.3" r="1.6"/><circle cx="457.4" cy="478.1" r="1.6"/><circle cx="477.8" cy="479.9" r="1.6"/><circle cx="524.9" cy="463.2" r="1.6"/><circle cx="466.6" cy="480.2" r="1.6"/><circle cx="458.0" cy="479.4" r="1.6"/><circle cx="464.9" cy="481.8" r="1.6"/><circle cx="446.0" cy="484.8" r="1.6"/><circle cx="477.3" cy="485.4" r="1.6"/><circle cx="507.0" cy="479.3" r="1.6"/><circle cx="486.9" cy="485.3" r="1.6"/><circle cx="454.0" cy="482.2" r="1.6"/><circle cx="470.1" cy="483.3" r="1.6"/><circle cx="510.8" cy="467.7" r="1.6"/><circle cx="461.7" cy="477.8" r="1.6"/><circle cx="464.4" cy="478.6" r="1.6"/><circle cx="480.3" cy="485.7" r="1.6"/><circle cx="476.9" cy="479.3" r="1.6"/><circle cx="486.5" cy="476.6" r="1.6"/><circle cx="511.1" cy="479.8" r="1.6"/><circle cx="458.2" cy="479.0" r="1.6"/><circle cx="505.5" cy="484.8" r="1.6"/><circle cx="503.1" cy="475.2" r="1.6"/><circle cx="533.7" cy="456.1" r="1.6"/><circle cx="448.7" cy="482.8" r="1.6"/><circle cx="481.1" cy="475.4" r="1.6"/><circle cx="494.0" cy="485.8" r="1.6"/><circle cx="491.3" cy="476.4" r="1.6"/><circle cx="451.7" cy="474.1" r="1.6"/><circle cx="526.6" cy="472.0" r="1.6"/><circle cx="530.0" cy="458.8" r="1.6"/><circle cx="465.6" cy="478.4" r="1.6"/><circle cx="480.0" cy="475.9" r="1.6"/><circle cx="466.8" cy="481.3" r="1.6"/><circle cx="471.5" cy="478.0" r="1.6"/><circle cx="446.5" cy="485.5" r="1.6"/><circle cx="459.7" cy="481.7" r="1.6"/><circle cx="480.4" cy="480.9" r="1.6"/><circle cx="450.8" cy="476.9" r="1.6"/><circle cx="453.0" cy="480.5" r="1.6"/><circle cx="528.7" cy="474.7" r="1.6"/><circle cx="522.7" cy="465.5" r="1.6"/><circle cx="444.6" cy="478.2" r="1.6"/><circle cx="488.2" cy="480.1" r="1.6"/><circle cx="478.0" cy="482.2" r="1.6"/><circle cx="510.5" cy="484.1" r="1.6"/><circle cx="471.6" cy="481.3" r="1.6"/><circle cx="519.9" cy="466.5" r="1.6"/><circle cx="453.8" cy="478.1" r="1.6"/><circle cx="451.2" cy="483.0" r="1.6"/><circle cx="519.2" cy="468.9" r="1.6"/><circle cx="455.1" cy="476.8" r="1.6"/><circle cx="465.8" cy="478.7" r="1.6"/><circle cx="482.9" cy="481.0" r="1.6"/><circle cx="465.8" cy="478.5" r="1.6"/><circle cx="508.2" cy="466.1" r="1.6"/><circle cx="461.6" cy="480.0" r="1.6"/><circle cx="477.8" cy="477.0" r="1.6"/><circle cx="482.1" cy="478.1" r="1.6"/><circle cx="513.0" cy="476.0" r="1.6"/><circle cx="526.3" cy="476.5" r="1.6"/><circle cx="513.7" cy="476.3" r="1.6"/><circle cx="484.1" cy="483.8" r="1.6"/><circle cx="504.0" cy="485.1" r="1.6"/><circle cx="510.7" cy="479.5" r="1.6"/><circle cx="467.9" cy="484.5" r="1.6"/><circle cx="478.6" cy="477.1" r="1.6"/><circle cx="449.1" cy="474.1" r="1.6"/><circle cx="467.4" cy="483.4" r="1.6"/><circle cx="469.6" cy="478.3" r="1.6"/><circle cx="514.0" cy="475.8" r="1.6"/><circle cx="445.6" cy="470.4" r="1.6"/><circle cx="455.1" cy="479.6" r="1.6"/><circle cx="523.0" cy="484.7" r="1.6"/><circle cx="499.9" cy="472.2" r="1.6"/><circle cx="482.9" cy="478.5" r="1.6"/><circle cx="473.7" cy="477.2" r="1.6"/><circle cx="497.4" cy="483.1" r="1.6"/><circle cx="510.6" cy="466.3" r="1.6"/><circle cx="492.3" cy="473.4" r="1.6"/><circle cx="509.0" cy="474.3" r="1.6"/><circle cx="530.3" cy="480.1" r="1.6"/><circle cx="454.0" cy="478.2" r="1.6"/><circle cx="528.1" cy="470.9" r="1.6"/><circle cx="483.4" cy="479.3" r="1.6"/><circle cx="514.4" cy="484.5" r="1.6"/><circle cx="492.5" cy="485.5" r="1.6"/><circle cx="498.4" cy="470.4" r="1.6"/><circle cx="518.7" cy="471.7" r="1.6"/><circle cx="447.9" cy="485.7" r="1.6"/><circle cx="446.1" cy="479.2" r="1.6"/><circle cx="487.8" cy="484.4" r="1.6"/><circle cx="479.5" cy="477.7" r="1.6"/><circle cx="468.8" cy="479.5" r="1.6"/><circle cx="495.3" cy="475.6" r="1.6"/><circle cx="512.9" cy="468.9" r="1.6"/><circle cx="475.7" cy="478.9" r="1.6"/><circle cx="534.4" cy="481.2" r="1.6"/><circle cx="522.0" cy="476.1" r="1.6"/><circle cx="480.3" cy="476.7" r="1.6"/><circle cx="520.3" cy="473.1" r="1.6"/><circle cx="446.5" cy="472.8" r="1.6"/><circle cx="452.2" cy="482.5" r="1.6"/><circle cx="526.7" cy="464.0" r="1.6"/><circle cx="517.1" cy="469.7" r="1.6"/><circle cx="506.5" cy="483.2" r="1.6"/><circle cx="500.9" cy="482.4" r="1.6"/><circle cx="478.0" cy="476.1" r="1.6"/><circle cx="490.6" cy="480.0" r="1.6"/><circle cx="460.2" cy="480.7" r="1.6"/><circle cx="472.5" cy="477.6" r="1.6"/><circle cx="472.0" cy="480.7" r="1.6"/><circle cx="487.3" cy="482.0" r="1.6"/><circle cx="480.1" cy="485.8" r="1.6"/><circle cx="518.8" cy="484.1" r="1.6"/><circle cx="507.4" cy="479.2" r="1.6"/><circle cx="492.9" cy="482.9" r="1.6"/><circle cx="476.7" cy="482.1" r="1.6"/><circle cx="506.2" cy="476.4" r="1.6"/><circle cx="469.4" cy="478.5" r="1.6"/><circle cx="451.1" cy="477.5" r="1.6"/><circle cx="497.0" cy="482.0" r="1.6"/><circle cx="509.4" cy="471.2" r="1.6"/><circle cx="529.4" cy="465.3" r="1.6"/><circle cx="509.6" cy="466.2" r="1.6"/><circle cx="513.1" cy="478.5" r="1.6"/><circle cx="532.0" cy="483.0" r="1.6"/><circle cx="507.0" cy="482.7" r="1.6"/><circle cx="511.7" cy="477.4" r="1.6"/><circle cx="462.4" cy="482.0" r="1.6"/><circle cx="526.3" cy="465.1" r="1.6"/><circle cx="533.6" cy="472.3" r="1.6"/><circle cx="479.6" cy="475.5" r="1.6"/><circle cx="479.3" cy="477.4" r="1.6"/><circle cx="503.7" cy="484.1" r="1.6"/><circle cx="527.6" cy="475.2" r="1.6"/><circle cx="479.0" cy="476.8" r="1.6"/><circle cx="507.1" cy="476.9" r="1.6"/><circle cx="509.5" cy="472.6" r="1.6"/><circle cx="525.5" cy="464.7" r="1.6"/><circle cx="471.4" cy="479.8" r="1.6"/><circle cx="500.9" cy="484.1" r="1.6"/><circle cx="458.6" cy="482.7" r="1.6"/><circle cx="514.3" cy="468.1" r="1.6"/><circle cx="448.8" cy="479.7" r="1.6"/><circle cx="520.2" cy="482.9" r="1.6"/><circle cx="510.7" cy="473.3" r="1.6"/><circle cx="482.6" cy="480.5" r="1.6"/><circle cx="527.1" cy="466.7" r="1.6"/><circle cx="469.1" cy="482.8" r="1.6"/><circle cx="532.9" cy="461.8" r="1.6"/><circle cx="445.8" cy="471.6" r="1.6"/><circle cx="495.3" cy="479.6" r="1.6"/><circle cx="460.1" cy="478.9" r="1.6"/><circle cx="498.3" cy="479.9" r="1.6"/><circle cx="507.2" cy="480.4" r="1.6"/><circle cx="448.7" cy="478.5" r="1.6"/><circle cx="520.6" cy="484.9" r="1.6"/><circle cx="472.6" cy="484.7" r="1.6"/><circle cx="503.0" cy="484.6" r="1.6"/><circle cx="464.3" cy="483.5" r="1.6"/><circle cx="521.2" cy="472.6" r="1.6"/><circle cx="452.4" cy="476.0" r="1.6"/><circle cx="457.6" cy="477.6" r="1.6"/><circle cx="457.1" cy="482.4" r="1.6"/><circle cx="452.8" cy="483.1" r="1.6"/><circle cx="511.5" cy="482.0" r="1.6"/><circle cx="517.7" cy="479.0" r="1.6"/><circle cx="528.9" cy="484.8" r="1.6"/><circle cx="501.1" cy="485.4" r="1.6"/><circle cx="452.6" cy="475.0" r="1.6"/><circle cx="449.0" cy="474.6" r="1.6"/><circle cx="477.8" cy="480.6" r="1.6"/><circle cx="506.3" cy="480.8" r="1.6"/><circle cx="450.8" cy="478.0" r="1.6"/><circle cx="493.5" cy="476.3" r="1.6"/><circle cx="453.9" cy="481.4" r="1.6"/><circle cx="477.8" cy="482.9" r="1.6"/><circle cx="489.1" cy="485.5" r="1.6"/><circle cx="530.9" cy="459.1" r="1.6"/><circle cx="513.7" cy="479.6" r="1.6"/><circle cx="470.5" cy="478.7" r="1.6"/><circle cx="487.5" cy="477.3" r="1.6"/><circle cx="511.6" cy="484.2" r="1.6"/><circle cx="478.5" cy="478.8" r="1.6"/><circle cx="489.4" cy="481.7" r="1.6"/><circle cx="516.4" cy="475.9" r="1.6"/><circle cx="470.5" cy="480.5" r="1.6"/><circle cx="521.9" cy="473.6" r="1.6"/><circle cx="447.7" cy="477.2" r="1.6"/><circle cx="465.1" cy="483.3" r="1.6"/><circle cx="449.8" cy="475.9" r="1.6"/><circle cx="451.9" cy="479.4" r="1.6"/><circle cx="534.6" cy="472.1" r="1.6"/><circle cx="478.9" cy="485.3" r="1.6"/><circle cx="451.5" cy="477.7" r="1.6"/><circle cx="518.4" cy="461.6" r="1.6"/><circle cx="514.2" cy="471.3" r="1.6"/><circle cx="444.5" cy="473.2" r="1.6"/><circle cx="485.6" cy="478.1" r="1.6"/><circle cx="491.1" cy="472.1" r="1.6"/><circle cx="463.3" cy="485.8" r="1.6"/><circle cx="484.2" cy="479.5" r="1.6"/><circle cx="450.9" cy="476.5" r="1.6"/><circle cx="531.8" cy="476.8" r="1.6"/><circle cx="490.2" cy="472.4" r="1.6"/><circle cx="479.5" cy="483.7" r="1.6"/><circle cx="483.4" cy="481.1" r="1.6"/><circle cx="526.9" cy="476.2" r="1.6"/><circle cx="502.1" cy="468.0" r="1.6"/><circle cx="445.2" cy="482.2" r="1.6"/><circle cx="481.4" cy="484.6" r="1.6"/><circle cx="519.8" cy="483.9" r="1.6"/><circle cx="478.2" cy="486.0" r="1.6"/><circle cx="513.3" cy="483.5" r="1.6"/><circle cx="456.8" cy="483.9" r="1.6"/><circle cx="482.3" cy="485.7" r="1.6"/><circle cx="535.5" cy="462.0" r="1.6"/><circle cx="482.2" cy="477.6" r="1.6"/><circle cx="486.7" cy="476.6" r="1.6"/><circle cx="505.0" cy="468.7" r="1.6"/><circle cx="458.7" cy="481.1" r="1.6"/><circle cx="449.9" cy="477.4" r="1.6"/><circle cx="526.5" cy="482.9" r="1.6"/><circle cx="461.3" cy="477.7" r="1.6"/><circle cx="520.0" cy="485.0" r="1.6"/><circle cx="498.7" cy="470.9" r="1.6"/><circle cx="465.0" cy="485.4" r="1.6"/><circle cx="530.2" cy="458.1" r="1.6"/><circle cx="460.2" cy="481.0" r="1.6"/><circle cx="467.8" cy="484.0" r="1.6"/><circle cx="477.7" cy="483.8" r="1.6"/><circle cx="457.1" cy="481.5" r="1.6"/><circle cx="533.7" cy="477.0" r="1.6"/><circle cx="451.4" cy="474.5" r="1.6"/><circle cx="502.8" cy="474.2" r="1.6"/><circle cx="477.3" cy="480.9" r="1.6"/><circle cx="497.1" cy="485.4" r="1.6"/><circle cx="465.4" cy="482.5" r="1.6"/><circle cx="467.5" cy="482.4" r="1.6"/><circle cx="511.0" cy="467.0" r="1.6"/><circle cx="487.7" cy="482.0" r="1.6"/><circle cx="443.8" cy="482.0" r="1.6"/><circle cx="482.0" cy="480.3" r="1.6"/><circle cx="499.8" cy="482.3" r="1.6"/><circle cx="448.2" cy="478.6" r="1.6"/><circle cx="446.6" cy="476.3" r="1.6"/><circle cx="475.2" cy="477.0" r="1.6"/><circle cx="470.7" cy="481.4" r="1.6"/><circle cx="503.9" cy="484.5" r="1.6"/><circle cx="477.5" cy="481.4" r="1.6"/><circle cx="509.3" cy="484.7" r="1.6"/><circle cx="531.3" cy="485.7" r="1.6"/><circle cx="471.1" cy="479.0" r="1.6"/><circle cx="529.7" cy="459.6" r="1.6"/><circle cx="484.7" cy="482.7" r="1.6"/><circle cx="492.2" cy="476.8" r="1.6"/><circle cx="529.0" cy="466.1" r="1.6"/><circle cx="494.3" cy="483.3" r="1.6"/><circle cx="455.8" cy="479.7" r="1.6"/><circle cx="489.0" cy="479.9" r="1.6"/><circle cx="462.3" cy="481.5" r="1.6"/><circle cx="448.6" cy="472.6" r="1.6"/><circle cx="474.8" cy="478.2" r="1.6"/><circle cx="533.0" cy="464.1" r="1.6"/><circle cx="468.6" cy="484.3" r="1.6"/><circle cx="511.9" cy="469.6" r="1.6"/><circle cx="520.1" cy="476.6" r="1.6"/><circle cx="479.1" cy="482.1" r="1.6"/><circle cx="465.9" cy="480.1" r="1.6"/><circle cx="524.5" cy="471.0" r="1.6"/><circle cx="526.4" cy="463.4" r="1.6"/><circle cx="455.8" cy="476.7" r="1.6"/><circle cx="511.8" cy="476.3" r="1.6"/><circle cx="443.9" cy="469.3" r="1.6"/><circle cx="519.6" cy="473.4" r="1.6"/><circle cx="524.0" cy="460.5" r="1.6"/><circle cx="497.8" cy="470.9" r="1.6"/><circle cx="510.1" cy="477.6" r="1.6"/><circle cx="499.9" cy="472.1" r="1.6"/><circle cx="531.3" cy="460.1" r="1.6"/><circle cx="449.0" cy="481.4" r="1.6"/><circle cx="451.6" cy="474.0" r="1.6"/><circle cx="485.8" cy="481.5" r="1.6"/><circle cx="526.0" cy="478.4" r="1.6"/><circle cx="449.5" cy="481.0" r="1.6"/><circle cx="521.5" cy="463.4" r="1.6"/><circle cx="513.2" cy="469.2" r="1.6"/><circle cx="470.8" cy="477.7" r="1.6"/><circle cx="513.5" cy="475.0" r="1.6"/><circle cx="526.9" cy="471.2" r="1.6"/><circle cx="457.5" cy="478.7" r="1.6"/><circle cx="467.5" cy="485.6" r="1.6"/><circle cx="462.1" cy="478.4" r="1.6"/><circle cx="475.8" cy="477.3" r="1.6"/><circle cx="482.5" cy="481.6" r="1.6"/><circle cx="503.5" cy="470.2" r="1.6"/><circle cx="455.9" cy="481.0" r="1.6"/><circle cx="506.9" cy="474.7" r="1.6"/><circle cx="496.3" cy="484.5" r="1.6"/><circle cx="456.5" cy="479.0" r="1.6"/><circle cx="488.9" cy="479.5" r="1.6"/><circle cx="526.7" cy="473.8" r="1.6"/><circle cx="504.6" cy="474.6" r="1.6"/><circle cx="515.9" cy="482.1" r="1.6"/><circle cx="470.3" cy="478.6" r="1.6"/><circle cx="467.1" cy="480.9" r="1.6"/><circle cx="525.7" cy="466.0" r="1.6"/><circle cx="501.5" cy="479.4" r="1.6"/><circle cx="531.9" cy="460.0" r="1.6"/><circle cx="514.6" cy="470.6" r="1.6"/><circle cx="452.6" cy="481.5" r="1.6"/><circle cx="521.5" cy="475.3" r="1.6"/><circle cx="447.6" cy="485.6" r="1.6"/><circle cx="478.7" cy="482.3" r="1.6"/><circle cx="510.3" cy="470.0" r="1.6"/><circle cx="481.0" cy="478.6" r="1.6"/><circle cx="451.9" cy="474.2" r="1.6"/><circle cx="509.7" cy="473.4" r="1.6"/><circle cx="523.9" cy="461.1" r="1.6"/><circle cx="471.0" cy="479.1" r="1.6"/><circle cx="530.7" cy="479.9" r="1.6"/><circle cx="526.4" cy="472.5" r="1.6"/><circle cx="452.7" cy="478.9" r="1.6"/><circle cx="464.0" cy="478.1" r="1.6"/><circle cx="495.5" cy="474.4" r="1.6"/><circle cx="453.0" cy="480.1" r="1.6"/><circle cx="529.8" cy="484.5" r="1.6"/><circle cx="486.3" cy="474.3" r="1.6"/><circle cx="514.5" cy="465.5" r="1.6"/><circle cx="493.0" cy="471.9" r="1.6"/><circle cx="534.8" cy="472.1" r="1.6"/><circle cx="483.7" cy="477.2" r="1.6"/><circle cx="494.2" cy="485.6" r="1.6"/><circle cx="482.8" cy="476.7" r="1.6"/><circle cx="490.9" cy="484.8" r="1.6"/><circle cx="478.5" cy="482.3" r="1.6"/><circle cx="528.4" cy="467.0" r="1.6"/><circle cx="518.4" cy="474.4" r="1.6"/><circle cx="456.0" cy="476.8" r="1.6"/><circle cx="530.3" cy="470.6" r="1.6"/><circle cx="484.2" cy="485.0" r="1.6"/><circle cx="496.4" cy="477.7" r="1.6"/><circle cx="469.4" cy="483.9" r="1.6"/><circle cx="466.8" cy="481.8" r="1.6"/><circle cx="513.5" cy="477.0" r="1.6"/><circle cx="455.5" cy="478.1" r="1.6"/><circle cx="507.6" cy="480.4" r="1.6"/><circle cx="452.5" cy="486.0" r="1.6"/><circle cx="455.4" cy="477.8" r="1.6"/><circle cx="451.3" cy="478.8" r="1.6"/><circle cx="500.6" cy="483.4" r="1.6"/><circle cx="458.2" cy="483.2" r="1.6"/><circle cx="452.8" cy="480.9" r="1.6"/><circle cx="466.4" cy="480.9" r="1.6"/><circle cx="447.9" cy="481.8" r="1.6"/><circle cx="454.4" cy="483.4" r="1.6"/><circle cx="474.3" cy="482.3" r="1.6"/><circle cx="502.4" cy="476.4" r="1.6"/><circle cx="524.3" cy="483.9" r="1.6"/><circle cx="469.2" cy="480.6" r="1.6"/><circle cx="524.6" cy="462.8" r="1.6"/><circle cx="482.1" cy="479.3" r="1.6"/><circle cx="533.8" cy="459.8" r="1.6"/><circle cx="503.9" cy="481.3" r="1.6"/><circle cx="510.7" cy="464.2" r="1.6"/><circle cx="530.8" cy="466.1" r="1.6"/><circle cx="522.3" cy="477.2" r="1.6"/><circle cx="482.1" cy="484.1" r="1.6"/><circle cx="505.8" cy="472.8" r="1.6"/><circle cx="511.1" cy="475.2" r="1.6"/><circle cx="509.2" cy="477.8" r="1.6"/><circle cx="517.0" cy="465.8" r="1.6"/><circle cx="489.0" cy="472.1" r="1.6"/><circle cx="516.5" cy="480.5" r="1.6"/><circle cx="520.9" cy="461.7" r="1.6"/><circle cx="492.8" cy="478.0" r="1.6"/><circle cx="454.1" cy="477.0" r="1.6"/><circle cx="533.6" cy="481.6" r="1.6"/><circle cx="465.2" cy="484.6" r="1.6"/><circle cx="503.5" cy="474.2" r="1.6"/><circle cx="503.0" cy="471.4" r="1.6"/><circle cx="468.5" cy="478.0" r="1.6"/><circle cx="504.1" cy="477.9" r="1.6"/><circle cx="512.1" cy="474.9" r="1.6"/><circle cx="483.4" cy="477.7" r="1.6"/><circle cx="511.4" cy="472.2" r="1.6"/><circle cx="498.5" cy="481.8" r="1.6"/><circle cx="484.3" cy="482.1" r="1.6"/><circle cx="448.7" cy="475.2" r="1.6"/><circle cx="521.2" cy="464.2" r="1.6"/><circle cx="448.3" cy="471.4" r="1.6"/><circle cx="514.2" cy="465.4" r="1.6"/><circle cx="485.6" cy="478.8" r="1.6"/><circle cx="517.7" cy="473.3" r="1.6"/><circle cx="491.5" cy="471.5" r="1.6"/><circle cx="517.0" cy="480.4" r="1.6"/><circle cx="501.0" cy="483.0" r="1.6"/><circle cx="500.1" cy="480.9" r="1.6"/><circle cx="522.1" cy="476.1" r="1.6"/><circle cx="444.9" cy="484.1" r="1.6"/><circle cx="535.0" cy="461.6" r="1.6"/><circle cx="449.1" cy="476.6" r="1.6"/><circle cx="452.3" cy="478.2" r="1.6"/><circle cx="451.3" cy="475.8" r="1.6"/><circle cx="443.3" cy="475.8" r="1.6"/><circle cx="470.9" cy="483.7" r="1.6"/><circle cx="479.2" cy="477.3" r="1.6"/><circle cx="531.7" cy="482.9" r="1.6"/><circle cx="507.1" cy="470.0" r="1.6"/><circle cx="480.4" cy="480.0" r="1.6"/><circle cx="481.0" cy="475.2" r="1.6"/><circle cx="485.4" cy="483.1" r="1.6"/><circle cx="507.5" cy="483.1" r="1.6"/><circle cx="506.5" cy="481.2" r="1.6"/><circle cx="524.0" cy="483.8" r="1.6"/><circle cx="516.8" cy="472.0" r="1.6"/><circle cx="504.4" cy="479.3" r="1.6"/><circle cx="525.1" cy="478.3" r="1.6"/><circle cx="484.2" cy="476.1" r="1.6"/><circle cx="473.5" cy="479.4" r="1.6"/><circle cx="506.4" cy="481.3" r="1.6"/><circle cx="460.9" cy="482.0" r="1.6"/><circle cx="521.1" cy="469.8" r="1.6"/><circle cx="451.8" cy="481.0" r="1.6"/><circle cx="476.7" cy="477.7" r="1.6"/><circle cx="469.8" cy="477.9" r="1.6"/><circle cx="456.8" cy="480.5" r="1.6"/><circle cx="452.8" cy="473.9" r="1.6"/><circle cx="494.1" cy="485.3" r="1.6"/><circle cx="520.6" cy="468.9" r="1.6"/><circle cx="529.0" cy="459.9" r="1.6"/><circle cx="457.0" cy="476.6" r="1.6"/><circle cx="448.4" cy="480.1" r="1.6"/><circle cx="513.4" cy="474.1" r="1.6"/><circle cx="517.7" cy="472.7" r="1.6"/><circle cx="528.4" cy="475.0" r="1.6"/><circle cx="492.9" cy="473.2" r="1.6"/><circle cx="482.7" cy="479.5" r="1.6"/><circle cx="519.5" cy="466.8" r="1.6"/><circle cx="470.4" cy="484.5" r="1.6"/><circle cx="449.6" cy="479.5" r="1.6"/><circle cx="463.4" cy="483.3" r="1.6"/><circle cx="498.3" cy="470.3" r="1.6"/><circle cx="510.9" cy="473.1" r="1.6"/><circle cx="472.8" cy="484.8" r="1.6"/><circle cx="515.4" cy="469.8" r="1.6"/><circle cx="506.0" cy="468.4" r="1.6"/><circle cx="491.3" cy="472.4" r="1.6"/><circle cx="502.6" cy="484.4" r="1.6"/><circle cx="502.2" cy="468.1" r="1.6"/><circle cx="490.7" cy="478.3" r="1.6"/><circle cx="484.2" cy="475.6" r="1.6"/><circle cx="468.9" cy="481.5" r="1.6"/><circle cx="449.6" cy="481.4" r="1.6"/><circle cx="465.7" cy="480.3" r="1.6"/><circle cx="451.4" cy="477.0" r="1.6"/><circle cx="529.6" cy="465.8" r="1.6"/><circle cx="451.9" cy="477.7" r="1.6"/><circle cx="530.9" cy="459.5" r="1.6"/><circle cx="474.8" cy="478.8" r="1.6"/><circle cx="506.4" cy="475.1" r="1.6"/><circle cx="452.1" cy="484.3" r="1.6"/><circle cx="473.5" cy="483.2" r="1.6"/><circle cx="485.1" cy="484.4" r="1.6"/><circle cx="448.4" cy="474.6" r="1.6"/><circle cx="469.6" cy="480.0" r="1.6"/><circle cx="519.4" cy="473.6" r="1.6"/><circle cx="475.2" cy="481.4" r="1.6"/><circle cx="521.7" cy="474.9" r="1.6"/><circle cx="485.0" cy="481.7" r="1.6"/><circle cx="500.2" cy="475.3" r="1.6"/><circle cx="482.6" cy="475.9" r="1.6"/><circle cx="483.8" cy="484.5" r="1.6"/><circle cx="471.5" cy="480.6" r="1.6"/><circle cx="499.1" cy="478.8" r="1.6"/><circle cx="459.3" cy="481.1" r="1.6"/><circle cx="511.3" cy="464.9" r="1.6"/><circle cx="453.1" cy="483.1" r="1.6"/><circle cx="527.2" cy="460.2" r="1.6"/><circle cx="450.6" cy="481.0" r="1.6"/><circle cx="469.5" cy="483.2" r="1.6"/><circle cx="446.2" cy="477.3" r="1.6"/><circle cx="458.0" cy="479.9" r="1.6"/><circle cx="507.5" cy="475.9" r="1.6"/><circle cx="522.4" cy="481.9" r="1.6"/><circle cx="500.6" cy="483.2" r="1.6"/><circle cx="459.5" cy="481.4" r="1.6"/><circle cx="472.7" cy="482.7" r="1.6"/><circle cx="453.3" cy="484.6" r="1.6"/><circle cx="477.5" cy="483.9" r="1.6"/><circle cx="530.7" cy="484.3" r="1.6"/><circle cx="479.3" cy="484.5" r="1.6"/><circle cx="535.7" cy="459.2" r="1.6"/><circle cx="512.5" cy="479.9" r="1.6"/><circle cx="485.6" cy="476.8" r="1.6"/><circle cx="459.1" cy="480.7" r="1.6"/><circle cx="529.7" cy="468.9" r="1.6"/><circle cx="466.7" cy="483.0" r="1.6"/><circle cx="483.7" cy="481.3" r="1.6"/><circle cx="485.3" cy="477.0" r="1.6"/><circle cx="446.3" cy="483.1" r="1.6"/><circle cx="504.3" cy="471.3" r="1.6"/><circle cx="489.4" cy="480.1" r="1.6"/><circle cx="489.8" cy="484.6" r="1.6"/><circle cx="515.4" cy="469.7" r="1.6"/><circle cx="474.5" cy="482.5" r="1.6"/><circle cx="458.1" cy="485.4" r="1.6"/><circle cx="447.2" cy="478.3" r="1.6"/><circle cx="468.4" cy="482.2" r="1.6"/><circle cx="447.2" cy="474.0" r="1.6"/><circle cx="535.0" cy="479.5" r="1.6"/><circle cx="463.6" cy="481.6" r="1.6"/><circle cx="446.0" cy="471.8" r="1.6"/><circle cx="460.8" cy="485.9" r="1.6"/><circle cx="472.0" cy="479.6" r="1.6"/><circle cx="449.1" cy="473.2" r="1.6"/><circle cx="535.6" cy="478.0" r="1.6"/><circle cx="528.6" cy="481.4" r="1.6"/><circle cx="515.8" cy="468.4" r="1.6"/><circle cx="458.7" cy="479.4" r="1.6"/><circle cx="449.1" cy="474.2" r="1.6"/><circle cx="509.9" cy="475.1" r="1.6"/><circle cx="444.0" cy="473.9" r="1.6"/><circle cx="522.0" cy="482.1" r="1.6"/><circle cx="510.8" cy="480.1" r="1.6"/><circle cx="527.8" cy="473.6" r="1.6"/><circle cx="478.6" cy="481.6" r="1.6"/><circle cx="469.3" cy="478.2" r="1.6"/><circle cx="467.2" cy="481.7" r="1.6"/><circle cx="454.2" cy="475.6" r="1.6"/><circle cx="466.0" cy="480.9" r="1.6"/><circle cx="532.0" cy="470.9" r="1.6"/><circle cx="520.8" cy="479.5" r="1.6"/><circle cx="498.1" cy="474.3" r="1.6"/><circle cx="479.5" cy="478.8" r="1.6"/><circle cx="502.0" cy="483.3" r="1.6"/><circle cx="516.5" cy="469.2" r="1.6"/><circle cx="456.9" cy="476.6" r="1.6"/><circle cx="497.4" cy="472.9" r="1.6"/><circle cx="443.5" cy="473.7" r="1.6"/><circle cx="464.2" cy="479.6" r="1.6"/><circle cx="504.8" cy="477.8" r="1.6"/><circle cx="469.2" cy="483.8" r="1.6"/><circle cx="462.2" cy="485.3" r="1.6"/><circle cx="454.1" cy="481.4" r="1.6"/><circle cx="508.6" cy="480.4" r="1.6"/><circle cx="488.3" cy="484.2" r="1.6"/><circle cx="501.5" cy="480.3" r="1.6"/><circle cx="450.4" cy="474.9" r="1.6"/><circle cx="486.3" cy="480.1" r="1.6"/><circle cx="451.9" cy="482.7" r="1.6"/><circle cx="475.2" cy="481.1" r="1.6"/><circle cx="491.5" cy="483.6" r="1.6"/><circle cx="471.1" cy="482.3" r="1.6"/><circle cx="499.3" cy="479.9" r="1.6"/><circle cx="472.0" cy="479.8" r="1.6"/><circle cx="486.7" cy="480.8" r="1.6"/><circle cx="503.0" cy="469.6" r="1.6"/><circle cx="484.5" cy="480.6" r="1.6"/><circle cx="461.1" cy="478.4" r="1.6"/><circle cx="529.4" cy="458.1" r="1.6"/><circle cx="489.4" cy="476.1" r="1.6"/><circle cx="445.9" cy="474.1" r="1.6"/><circle cx="458.0" cy="480.5" r="1.6"/><circle cx="527.6" cy="460.4" r="1.6"/><circle cx="475.7" cy="483.1" r="1.6"/><circle cx="501.1" cy="468.1" r="1.6"/><circle cx="464.3" cy="480.2" r="1.6"/><circle cx="526.2" cy="470.7" r="1.6"/><circle cx="467.0" cy="481.8" r="1.6"/><circle cx="488.1" cy="474.4" r="1.6"/><circle cx="505.0" cy="480.5" r="1.6"/><circle cx="487.4" cy="479.8" r="1.6"/><circle cx="514.7" cy="485.0" r="1.6"/><circle cx="500.0" cy="468.9" r="1.6"/><circle cx="446" cy="466" r="1.6"/><circle cx="503" cy="444" r="1.6"/><circle cx="510" cy="448" r="1.6"/><circle cx="517" cy="444" r="1.6"/><circle cx="520" cy="453" r="1.6"/><circle cx="496" cy="455" r="1.6"/><circle cx="489" cy="455" r="1.6"/><circle cx="528" cy="432" r="1.6"/><circle cx="521" cy="436" r="1.6"/><circle cx="536" cy="436" r="1.6"/><circle cx="530" cy="444" r="1.6"/><circle cx="524" cy="459" r="1.6"/><circle cx="505" cy="455" r="1.6"/><circle cx="485" cy="462" r="1.6"/><circle cx="470" cy="470" r="1.6"/></g>
<line x1="433.8" y1="475" x2="684" y2="475" stroke="#ababab" stroke-width="1.4"/>
<line x1="536.1" y1="235.8" x2="536.1" y2="496" stroke="#ababab" stroke-width="1.4"/>
<g fill="#2a2a2a" fill-opacity="0.85" stroke="#1a1a1a" stroke-width="0.5"><circle cx="565.6" cy="264.6" r="1.45"/><circle cx="560.4" cy="311.9" r="1.45"/><circle cx="589.5" cy="349.1" r="1.45"/><circle cx="568.2" cy="402.9" r="1.45"/><circle cx="641.5" cy="447.4" r="1.45"/><circle cx="559.6" cy="427.6" r="1.45"/><circle cx="588.2" cy="427.6" r="1.45"/><circle cx="590.2" cy="425.5" r="1.45"/><circle cx="604.9" cy="433.8" r="1.45"/><circle cx="542.9" cy="436" r="1.45"/><circle cx="541.6" cy="447.2" r="1.45"/><circle cx="584.3" cy="444.3" r="1.45"/><circle cx="580.3" cy="448" r="1.45"/><circle cx="576.4" cy="451.9" r="1.45"/><circle cx="563.8" cy="450.2" r="1.45"/><circle cx="603.3" cy="452.8" r="1.45"/><circle cx="571.8" cy="455.5" r="1.45"/><circle cx="558.2" cy="455.5" r="1.45"/><circle cx="556" cy="457" r="1.45"/><circle cx="594.4" cy="458.8" r="1.45"/><circle cx="536.3" cy="459.2" r="1.45"/><circle cx="547.1" cy="460.3" r="1.45"/><circle cx="552.1" cy="460.3" r="1.45"/><circle cx="558.6" cy="459.4" r="1.45"/><circle cx="576.4" cy="460.1" r="1.45"/><circle cx="541.2" cy="462" r="1.45"/><circle cx="548.1" cy="463.1" r="1.45"/><circle cx="536.3" cy="463.4" r="1.45"/><circle cx="556.3" cy="461.4" r="1.45"/><circle cx="562.2" cy="462.7" r="1.45"/><circle cx="564.4" cy="461" r="1.45"/><circle cx="587.8" cy="462.3" r="1.45"/><circle cx="570.5" cy="463.4" r="1.45"/><circle cx="567.4" cy="465.6" r="1.45"/><circle cx="543.1" cy="466.2" r="1.45"/><circle cx="560.5" cy="468.9" r="1.45"/><circle cx="580.6" cy="466.2" r="1.45"/><circle cx="576.4" cy="468" r="1.45"/><circle cx="571.8" cy="469.9" r="1.45"/><circle cx="603.3" cy="468.4" r="1.45"/><circle cx="608.6" cy="466.4" r="1.45"/><circle cx="567.4" cy="471.5" r="1.45"/><circle cx="546.4" cy="470.2" r="1.45"/><circle cx="539.2" cy="473.2" r="1.45"/><circle cx="543.1" cy="472.6" r="1.45"/><circle cx="547.7" cy="473.2" r="1.45"/><circle cx="552.1" cy="472.3" r="1.45"/><circle cx="556.3" cy="474.3" r="1.45"/><circle cx="561.9" cy="473.2" r="1.45"/><circle cx="584.3" cy="473.6" r="1.45"/><circle cx="591.5" cy="472.3" r="1.45"/><circle cx="597.4" cy="470.3" r="1.45"/></g>
<g fill="#de5b92"><circle cx="575.5999999999999" cy="248.70000000000002" r="1.7"/><circle cx="559.6999999999999" cy="352.7" r="1.7"/><circle cx="544.0" cy="415.1" r="1.7"/><circle cx="620.0" cy="437.5" r="1.7"/></g>
<g font-size="7.6" fill="#e0487e">
<text x="570.9" y="244.1">SMARCA4</text>
<text x="539" y="349.1">ARID1A</text>
<text x="537.9" y="410.9">SMARCC1</text>
<text x="622.3" y="436.7">ARID1B</text>
</g>
</svg>
</body></html>
